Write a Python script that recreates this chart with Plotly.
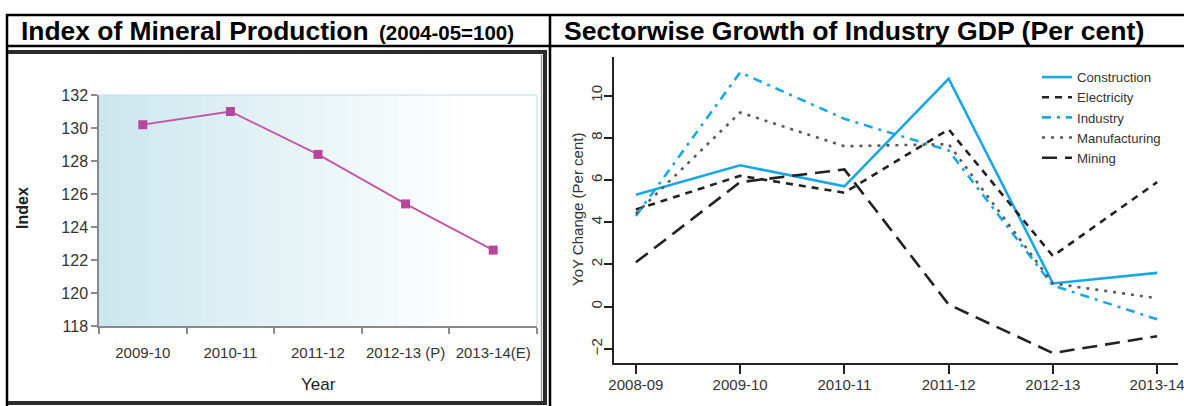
import plotly.graph_objects as go

W, H = 1184, 406

# ---- data: Index of Mineral Production (2004-05=100)
mineral_years = ["2009-10", "2010-11", "2011-12", "2012-13 (P)", "2013-14(E)"]
mineral_index = [130.2, 131.0, 128.4, 125.4, 122.6]
mineral_ticks = [118, 120, 122, 124, 126, 128, 130, 132]

# ---- data: Sectorwise growth of industry GDP (per cent)
gdp_years = ["2008-09", "2009-10", "2010-11", "2011-12", "2012-13", "2013-14"]
construction = [5.3, 6.7, 5.7, 10.8, 1.1, 1.6]
electricity = [4.6, 6.2, 5.4, 8.4, 2.4, 5.9]
industry = [4.3, 11.1, 8.9, 7.4, 1.0, -0.6]
manufacturing = [4.4, 9.2, 7.6, 7.7, 1.1, 0.4]
mining = [2.1, 5.9, 6.5, 0.1, -2.2, -1.4]
gdp_ticks = [-2, 0, 2, 4, 6, 8, 10]


def px(x):
    return x / W


def py(y):
    return 1 - y / H


SANS = "Liberation Sans, Arial, Helvetica, sans-serif"
CYAN = "#1aa8e4"
DARK = "#222222"

fig = go.Figure()

# left chart: mineral production index
fig.add_trace(go.Scatter(
    x=mineral_years, y=mineral_index, mode="lines+markers",
    line=dict(color="#c455a6", width=1.8),
    marker=dict(symbol="square", size=9, color="#b8469c"),
    xaxis="x", yaxis="y", showlegend=False,
))

# right chart: sector growth lines
series = [
    ("Construction", construction, dict(color=CYAN, width=2.6, dash="solid")),
    ("Electricity", electricity, dict(color=DARK, width=2.6, dash="7px,6px")),
    ("Industry", industry, dict(color=CYAN, width=2.6, dash="9px,6px,3px,6px")),
    ("Manufacturing", manufacturing, dict(color="#5a5a5a", width=2.6, dash="3px,6px")),
    ("Mining", mining, dict(color=DARK, width=2.6, dash="15px,8px")),
]
for name, vals, ln in series:
    fig.add_trace(go.Scatter(
        x=gdp_years, y=vals, mode="lines", name=name, line=ln,
        xaxis="x2", yaxis="y2",
    ))

shapes = []

# light-blue to white gradient behind the left plot area
n_strips = 60
c0 = (203, 231, 238)
for i in range(n_strips):
    t = i / (n_strips - 1)
    f = min(1.0, t / 0.85)
    r = round(c0[0] + (255 - c0[0]) * f)
    g = round(c0[1] + (255 - c0[1]) * f)
    b = round(c0[2] + (255 - c0[2]) * f)
    shapes.append(dict(
        type="rect", xref="x domain", yref="y domain",
        x0=i / n_strips, x1=(i + 1) / n_strips + 0.002, y0=0, y1=1,
        fillcolor=f"rgb({r},{g},{b})", line=dict(width=0), layer="below",
    ))

# faint frame on the top and right of the left plot area
shapes.append(dict(type="line", xref="x domain", yref="y domain",
                   x0=0, x1=1, y0=1, y1=1, line=dict(color="#cfe6ee", width=1.5)))
shapes.append(dict(type="line", xref="x domain", yref="y domain",
                   x0=1, x1=1, y0=0, y1=1, line=dict(color="#cfe6ee", width=1.5)))


# table rules
def hline(x0, x1, y, w, c="#000000"):
    shapes.append(dict(type="line", xref="paper", yref="paper",
                       x0=px(x0), x1=px(x1), y0=py(y), y1=py(y),
                       line=dict(color=c, width=w)))


def vline(x, y0, y1, w, c="#000000"):
    shapes.append(dict(type="line", xref="paper", yref="paper",
                       x0=px(x), x1=px(x), y0=py(y0), y1=py(y1),
                       line=dict(color=c, width=w)))


hline(6, W, 15, 2.5)
hline(6, W, 46, 2.5)
vline(7, 14, H, 2.5)
vline(550, 14, H, 2.5)

# heavy frame around the left picture
hline(8, 547, 52, 4, "#2b2b2b")
vline(545, 50, 405, 4, "#2b2b2b")
hline(8, 547, 403, 4, "#2b2b2b")
vline(541.5, 55, 401, 1.5, "#9a9a9a")

annotations = [
    dict(text="<b>Index of Mineral Production</b>", x=px(19), y=py(31),
         xref="paper", yref="paper", xanchor="left", yanchor="middle",
         showarrow=False, font=dict(family=SANS, size=26.4, color="#000")),
    dict(text="<b>(2004-05=100)</b>", x=px(377), y=py(32),
         xref="paper", yref="paper", xanchor="left", yanchor="middle",
         showarrow=False, font=dict(family=SANS, size=20.5, color="#000")),
    dict(text="<b>Sectorwise Growth of Industry GDP (Per cent)</b>", x=px(562), y=py(31),
         xref="paper", yref="paper", xanchor="left", yanchor="middle",
         showarrow=False, font=dict(family=SANS, size=26.6, color="#000")),
    dict(text="<b>Index</b>", x=px(22), y=py(208), textangle=-90,
         xref="paper", yref="paper", xanchor="center", yanchor="middle",
         showarrow=False, font=dict(family=SANS, size=16, color="#222")),
    dict(text="Year", x=px(318), y=py(384),
         xref="paper", yref="paper", xanchor="center", yanchor="middle",
         showarrow=False, font=dict(family=SANS, size=17, color="#222")),
    dict(text="YoY Change (Per cent)", x=px(577), y=py(210), textangle=-90,
         xref="paper", yref="paper", xanchor="center", yanchor="middle",
         showarrow=False, font=dict(family=SANS, size=15, color="#333")),
]

fig.update_layout(
    width=W, height=H,
    margin=dict(l=0, r=0, t=0, b=0, autoexpand=False),
    paper_bgcolor="white", plot_bgcolor="rgba(0,0,0,0)",
    shapes=shapes, annotations=annotations,
    xaxis=dict(
        domain=[px(99), px(537)], range=[-0.5, 4.5], anchor="y",
        type="category", tickson="boundaries", automargin=False,
        showline=True, linecolor="#8a8a8a", linewidth=1.5,
        ticks="outside", ticklen=6, tickcolor="#8a8a8a", tickwidth=1.5,
        tickangle=0, ticklabelstandoff=12,
        tickfont=dict(family=SANS, size=15, color="#333"),
        showgrid=False, zeroline=False,
    ),
    yaxis=dict(
        domain=[py(326), py(95)], range=[118, 132], anchor="x",
        tickvals=mineral_ticks, automargin=False,
        showline=True, linecolor="#8a8a8a", linewidth=1.5,
        ticks="outside", ticklen=6, tickcolor="#8a8a8a", tickwidth=1.5,
        tickfont=dict(family=SANS, size=16, color="#333"),
        showgrid=False, zeroline=False,
    ),
    xaxis2=dict(
        domain=[px(614), px(1178)], range=[-0.21, 5.2], anchor="y2",
        type="category", automargin=False, tickangle=0,
        showline=True, linecolor=DARK, linewidth=2,
        ticks="outside", ticklen=9, tickcolor=DARK, tickwidth=2,
        ticklabelstandoff=-2,
        tickfont=dict(family=SANS, size=15, color="#333"),
        showgrid=False, zeroline=False,
    ),
    yaxis2=dict(
        domain=[py(363), py(57)], range=[-2.67, 11.83], anchor="x2",
        tickvals=gdp_ticks, tickangle=-90, automargin=False,
        showline=True, linecolor=DARK, linewidth=2,
        ticks="outside", ticklen=8, tickcolor=DARK, tickwidth=2,
        ticklabelstandoff=-4,
        tickfont=dict(family=SANS, size=15, color="#333"),
        showgrid=False, zeroline=False,
    ),
    legend=dict(
        x=px(1037), y=py(62), xanchor="left", yanchor="top",
        bgcolor="rgba(0,0,0,0)", font=dict(family=SANS, size=13.2, color="#333"),
        tracegroupgap=0, itemwidth=30,
    ),
)

fig.write_html("out.html")
